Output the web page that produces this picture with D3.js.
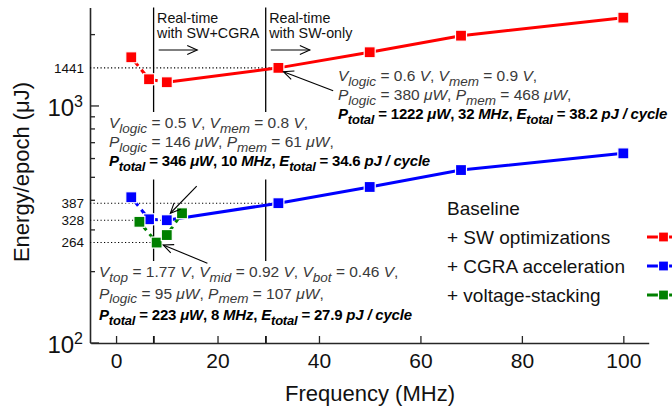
<!DOCTYPE html>
<html><head><meta charset="utf-8">
<script src="https://cdn.jsdelivr.net/npm/d3@7"></script>
<style>
body{margin:0;background:#fff}
svg{display:block}
text{font-family:"Liberation Sans",Arial,Helvetica,sans-serif;white-space:pre}
</style>
</head><body><svg id="c" width="672" height="413"></svg>
<script>
// ---------- data ----------
const freqMain = [3, 6.5, 10, 32, 50, 68, 100];
const energySW = [1597, 1290, 1253, 1441, 1677, 1970, 2347];
const energyCGRA = [410, 331, 328, 387, 453, 534, 628];
const freqVS = [4.6, 8, 10, 13];
const energyVS = [323, 264, 284, 351];
const xTickValues = [0, 7.4, 20, 29.5, 40, 60, 80, 100];
const xTickLabels = ["0", "", "20", "", "40", "60", "80", "100"];
const yMajorTicks = [100, 1000];
const yMinorTicks = [200, 300, 400, 500, 600, 700, 800, 900, 2000];
const refLabels = [1441, 387, 328, 264];
const refFreqs = [32, 32, 10, 8];
const regimeFreqs = [7.4, 29.5];
const regimeText = [["Real-time", "with SW+CGRA"], ["Real-time", "with SW-only"]];
const legendLabels = ["Baseline", "+ SW optimizations", "+ CGRA acceleration", "+ voltage-stacking"];
const legendColors = [null, "#ff0000", "#0000ff", "#008000"];
const annoCGRA = ["~V~_logic_ = 0.5 ~V~, ~V~_mem_ = 0.8 ~V~,",
                  "~P~_logic_ = 146 ~μW~, ~P~_mem_ = 61 ~μW~,",
                  "~P~_total_ = 346 ~μW~, 10 ~MHz~, ~E~_total_ = 34.6 ~pJ / cycle~"];
const annoSW = ["~V~_logic_ = 0.6 ~V~, ~V~_mem_ = 0.9 ~V~,",
                "~P~_logic_ = 380 ~μW~, ~P~_mem_ = 468 ~μW~,",
                "~P~_total_ = 1222 ~μW~, 32 ~MHz~, ~E~_total_ = 38.2 ~pJ / cycle~"];
const annoVS = ["~V~_top_ = 1.77 ~V~, ~V~_mid_ = 0.92 ~V~, ~V~_bot_ = 0.46 ~V~,",
                "~P~_logic_ = 95 ~μW~, ~P~_mem_ = 107 ~μW~,",
                "~P~_total_ = 223 ~μW~, 8 ~MHz~, ~E~_total_ = 27.9 ~pJ / cycle~"];
// annotation arrows: [tailFreq, tailEnergy, headFreq, headEnergy]
const arrowCGRA = [15.9, 457, 10.7, 351];
const arrowSW = [42.8, 1154, 33.0, 1389];
const arrowVS = [18.0, 216, 9.3, 258];
const regimeArrows = [[8.4, 16.0, 1714], [30.5, 38.2, 1714]];

// ---------- layout ----------
const svg = d3.select("#c");
const x = d3.scaleLinear().domain([-5, 105]).range([90.7, 648.7]);
const y = d3.scaleLog().domain([100, 2590]).range([342.5, 7.5]);
const axisY = 343, axisX = 90;
const axisColor = "#262626";

// arrow marker
const defs = svg.append("defs");
defs.append("marker").attr("id", "ah").attr("markerUnits", "userSpaceOnUse")
  .attr("viewBox", "-12 -7 14 14").attr("refX", 0).attr("refY", 0)
  .attr("markerWidth", 14).attr("markerHeight", 14).attr("orient", "auto")
  .append("path").attr("d", "M-10,-4.5 L0,0 L-10,4.5").attr("fill", "none")
  .attr("stroke", "#000").attr("stroke-width", 1.1);

// vertical regime lines
svg.append("g").selectAll("line").data(regimeFreqs).join("line")
  .attr("x1", d => x(d)).attr("x2", d => x(d))
  .attr("y1", y.range()[1]).attr("y2", axisY)
  .attr("stroke", "#000").attr("stroke-width", 1.3);

// rich text helper
function richLine(g, px, py, markup, o) {
  const t = g.append("text").attr("x", px).attr("y", py)
    .attr("font-size", o.size).attr("font-weight", o.bold ? "bold" : "normal")
    .attr("fill", o.color).attr("letter-spacing", o.ls || 0);
  const re = /(~[^~]+~|_[^_]+_|[^~_]+)/g;
  let m, shifted = false;
  while ((m = re.exec(markup)) !== null) {
    const tok = m[0];
    const ts = t.append("tspan");
    if (tok[0] === "_") {
      ts.text(tok.slice(1, -1)).attr("font-style", "italic").attr("font-size", o.sub).attr("dy", o.off);
      shifted = true;
    } else {
      if (shifted) { ts.attr("dy", -o.off); shifted = false; }
      if (tok[0] === "~") ts.text(tok.slice(1, -1)).attr("font-style", "italic");
      else ts.text(tok);
    }
  }
  return t;
}
const normStyle = {size: 15.5, sub: 13.5, off: 4.5, color: "#3a3a3a"};
const boldStyle = {size: 15, sub: 13, off: 4.5, color: "#000", bold: true, ls: -0.2};
function block(lines, px, ys, bg, extendTo) {
  const gBg = svg.append("g");
  const g = svg.append("g");
  lines.forEach((l, i) => richLine(g, px, ys[i], l, i === 2 ? boldStyle : normStyle));
  if (bg) {
    const b = g.node().getBBox();
    gBg.append("rect").attr("x", b.x - 3).attr("y", b.y - 2)
      .attr("width", b.width + 6)
      .attr("height", (extendTo ? extendTo - (b.y - 2) : b.height + 8))
      .attr("fill", "#fff");
  }
  return g;
}

// white-backed annotation blocks (drawn early so lines break behind them)
block(annoCGRA, 109, [128, 147, 166], true);
block(annoVS, 99, [277, 298.5, 320], true, axisY - 7);

// axes
const xAxis = d3.axisBottom(x).tickValues(xTickValues)
  .tickFormat((d, i) => xTickLabels[i]).tickSizeInner(-7).tickSizeOuter(0).tickPadding(10);
const gx = svg.append("g").attr("transform", `translate(0,${axisY})`).call(xAxis);
gx.select(".domain").attr("stroke", axisColor).attr("stroke-width", 1.6);
gx.selectAll(".tick line").attr("stroke", axisColor).attr("stroke-width", 1.3);
gx.selectAll("text").attr("font-size", 21).attr("fill", "#111")
  .attr("font-family", '"Liberation Sans",Arial,sans-serif');

const gyMinor = svg.append("g").attr("transform", `translate(${axisX},0)`)
  .call(d3.axisLeft(y).tickValues(yMinorTicks).tickFormat("").tickSizeInner(-5).tickSizeOuter(0));
gyMinor.select(".domain").attr("stroke", axisColor).attr("stroke-width", 1.6);
gyMinor.selectAll(".tick line").attr("stroke", axisColor).attr("stroke-width", 1.3);
const gyMajor = svg.append("g").attr("transform", `translate(${axisX},0)`)
  .call(d3.axisLeft(y).tickValues(yMajorTicks).tickSizeInner(-9).tickSizeOuter(0).tickPadding(7));
gyMajor.select(".domain").remove();
gyMajor.selectAll(".tick line").attr("stroke", axisColor).attr("stroke-width", 1.3);
gyMajor.selectAll(".tick text").each(function(d) {
  const t = d3.select(this);
  t.text(null).attr("font-size", 24).attr("fill", "#111").attr("dy", "0.4em")
    .attr("font-family", '"Liberation Sans",Arial,sans-serif');
  t.append("tspan").text("10");
  t.append("tspan").attr("dy", "-0.55em").attr("font-size", 16).text(Math.round(Math.log10(d)));
});

// reference dotted lines and labels
const gRef = svg.append("g");
gRef.selectAll("line").data(refLabels).join("line")
  .attr("x1", axisX).attr("x2", (d, i) => x(refFreqs[i]))
  .attr("y1", d => y(d)).attr("y2", d => y(d))
  .attr("stroke", "#000").attr("stroke-width", 1.1).attr("stroke-dasharray", "1.2,2.3");
gRef.selectAll("text").data(refLabels).join("text")
  .attr("x", axisX - 6).attr("y", d => y(d)).attr("dy", "0.36em")
  .attr("text-anchor", "end").attr("font-size", 13.5).attr("fill", "#111").text(d => d);

// series
const series = [
  {xs: freqMain, ys: energySW, color: legendColors[1], dashEnd: 2},
  {xs: freqMain, ys: energyCGRA, color: legendColors[2], dashEnd: 2},
  {xs: freqVS, ys: energyVS, color: legendColors[3], dashEnd: freqVS.length - 1}
];
const line = d3.line().x(d => x(d[0])).y(d => y(d[1]));
series.forEach(s => {
  const pts = s.xs.map((v, i) => [v, s.ys[i]]);
  const dashed = pts.slice(0, s.dashEnd + 1);
  const solid = pts.slice(s.dashEnd);
  svg.append("path").attr("d", line(dashed)).attr("fill", "none").attr("stroke", s.color)
    .attr("stroke-width", 3).attr("stroke-dasharray", "8,5").attr("stroke-dashoffset", -3);
  if (solid.length > 1)
    svg.append("path").attr("d", line(solid)).attr("fill", "none").attr("stroke", s.color)
      .attr("stroke-width", 3);
});
series.forEach(s => {
  const pts = s.xs.map((v, i) => [v, s.ys[i]]);
  svg.append("g").selectAll("rect").data(pts).join("rect")
    .attr("x", d => x(d[0]) - 5.5).attr("y", d => y(d[1]) - 5.5)
    .attr("width", 11).attr("height", 11).attr("fill", s.color)
    .attr("stroke", "#fff").attr("stroke-width", 1.2);
});

// annotation text (no background)
block(annoSW, 338, [81, 100, 119], false);

// annotation arrows
[arrowCGRA, arrowSW, arrowVS].forEach(a => {
  svg.append("line").attr("x1", x(a[0])).attr("y1", y(a[1]))
    .attr("x2", x(a[2])).attr("y2", y(a[3]))
    .attr("stroke", "#000").attr("stroke-width", 1.1).attr("marker-end", "url(#ah)");
});

// regime labels + arrows
regimeText.forEach((lines, i) => {
  const px = x(regimeFreqs[i]) + 3.5;
  lines.forEach((l, j) => svg.append("text").attr("x", px).attr("y", 23 + j * 14.5)
    .attr("font-size", 14.3).attr("fill", "#111").text(l));
  const r = regimeArrows[i];
  svg.append("line").attr("x1", x(r[0])).attr("x2", x(r[1]))
    .attr("y1", y(r[2])).attr("y2", y(r[2]))
    .attr("stroke", "#000").attr("stroke-width", 1.1).attr("marker-end", "url(#ah)");
});

// axis titles
svg.append("text").attr("x", 370).attr("y", 401).attr("text-anchor", "middle")
  .attr("font-size", 22).attr("fill", "#111").text("Frequency (MHz)");
svg.append("text").attr("transform", "translate(29,172) rotate(-90)")
  .attr("text-anchor", "middle").attr("font-size", 22).attr("fill", "#111").text("Energy/epoch (μJ)");

// legend
const legY = [215, 243.5, 272.5, 301.5];
const gLeg = svg.append("g");
legendLabels.forEach((lab, i) => {
  gLeg.append("text").attr("x", 447).attr("y", legY[i]).attr("font-size", 19)
    .attr("fill", "#111").text(lab);
  if (legendColors[i]) {
    const cy = legY[i] - 6.5;
    gLeg.append("line").attr("x1", 647).attr("x2", 690).attr("y1", cy).attr("y2", cy)
      .attr("stroke", legendColors[i]).attr("stroke-width", 3);
    gLeg.append("rect").attr("x", 658.5).attr("y", cy - 5).attr("width", 10).attr("height", 10)
      .attr("fill", legendColors[i]).attr("stroke", "#fff").attr("stroke-width", 1.2);
  }
});
</script>
</body></html>
